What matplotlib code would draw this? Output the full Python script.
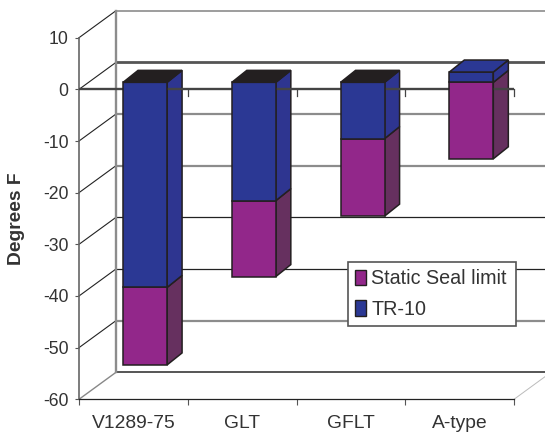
import matplotlib
matplotlib.use("Agg")
import matplotlib.pyplot as plt
from matplotlib.patches import Polygon, Patch

plt.rcParams['font.family'] = ['Liberation Sans', 'DejaVu Sans']

categories = ['V1289-75', 'GLT', 'GFLT', 'A-type']
tr10 = [-39.7, -22.9, -10.9, 2.0]
seal_limit = [-15.0, -14.7, -15.0, -14.8]
y_ticks = [10, 0, -10, -20, -30, -40, -50, -60]

W, H = 545, 432
L, R, T, B = 79, 514, 37.7, 399.3
fig = plt.figure(figsize=(W / 100, H / 100), dpi=100, facecolor='white')
ax = fig.add_axes([L / W, 1 - B / H, (R - L) / W, (B - T) / H], facecolor='none')
ax.set_xlim(0, len(categories))
ax.set_ylim(-60, 10)

PXX = (R - L) / len(categories)
PXY = (B - T) / 70
WALL_DX, WALL_DY = 37 / PXX, 27 / PXY
OFF_DX, OFF_DY = 11.7 / PXX, 7 / PXY
BAR_DX, BAR_DY = 15 / PXX, 12 / PXY
BAR_W = 44 / PXX

BLUE, BLUE_S = '#2B3894', '#2E3590'
PURPLE, PURPLE_S = '#92278A', '#66305F'
DARK = '#231F20'
TXT = '#333333'

# back wall and left wall
grid_style = {10: ('#8c8c8c', 1.2), 0: ('#555555', 2.0), -10: ('#8c8c8c', 1.6), -20: ('#8c8c8c', 1.6),
              -30: ('#222222', 0.9), -40: ('#222222', 0.9), -50: ('#8c8c8c', 1.6), -60: ('#555555', 1.4)}
for v in y_ticks:
    c, lw = grid_style[v]
    ax.plot([WALL_DX, 4 + WALL_DX], [v + WALL_DY] * 2, color=c, lw=lw, clip_on=False, zorder=1,
            solid_capstyle='butt')
    dc, dlw = ('#888888', 1.0) if v == -60 else ('#222222', 0.8)
    ax.plot([0, WALL_DX], [v, v + WALL_DY], color=dc, lw=dlw, clip_on=False, zorder=1)
ax.plot([WALL_DX, WALL_DX], [-60 + WALL_DY, 10 + WALL_DY], color='#8c8c8c', lw=1.7, clip_on=False, zorder=1)
ax.plot([4, 4 + WALL_DX], [-60, -60 + WALL_DY], color='#bbbbbb', lw=0.7, clip_on=False, zorder=1)

# zero line on the front plane with its ticks
ax.plot([0, 4], [0, 0], color='#444444', lw=1.7, clip_on=False, zorder=3, solid_capstyle='butt')
for i in range(1, len(categories) + 1):
    ax.plot([i, i], [0, -1.3], color='#444444', lw=0.9, clip_on=False, zorder=3)


def box(i, y0, y1, front, side, top=None):
    x0 = i + 0.5 - BAR_W / 2 + OFF_DX
    x1 = x0 + BAR_W
    y0 += OFF_DY
    y1 += OFF_DY
    kw = dict(edgecolor=DARK, lw=1.1, joinstyle='miter', clip_on=False)
    ax.add_patch(Polygon([(x1, y0), (x1 + BAR_DX, y0 + BAR_DY), (x1 + BAR_DX, y1 + BAR_DY), (x1, y1)],
                         facecolor=side, zorder=2, **kw))
    ax.add_patch(Polygon([(x0, y0), (x1, y0), (x1, y1), (x0, y1)], facecolor=front, zorder=4, **kw))
    if top is not None:
        yt = max(y0, y1)
        ax.add_patch(Polygon([(x0, yt), (x1, yt), (x1 + BAR_DX, yt + BAR_DY), (x0 + BAR_DX, yt + BAR_DY)],
                             facecolor=top, zorder=4, **kw))


for i, (t, s) in enumerate(zip(tr10, seal_limit)):
    start = min(t, 0)
    box(i, start, start + s, PURPLE, PURPLE_S)
    box(i, 0, t, BLUE, BLUE_S, top=DARK if t < 0 else BLUE)

# axes
for k in ('top', 'right'):
    ax.spines[k].set_visible(False)
ax.spines['left'].set_color('#666666')
ax.spines['left'].set_linewidth(1.2)
ax.spines['bottom'].set_color('#222222')
ax.spines['bottom'].set_linewidth(0.9)
ax.set_yticks(y_ticks)
ax.set_yticklabels([str(v) for v in y_ticks])
ax.tick_params(axis='y', labelsize=12.7, labelcolor=TXT, color='#555555', length=3, width=0.8, pad=4.5)
ax.set_xticks(range(len(categories) + 1))
ax.set_xticklabels([])
ax.tick_params(axis='x', which='major', color='#555555', length=4.5, width=0.8)
ax.set_xticks([i + 0.5 for i in range(len(categories))], minor=True)
ax.set_xticklabels(categories, minor=True)
ax.tick_params(axis='x', which='minor', length=0, labelsize=13.9, labelcolor=TXT, pad=11)

fig.text(17 / W, 1 - 218.5 / H, 'Degrees F', rotation=90, fontsize=13.9, fontweight='bold',
         color=TXT, ha='center', va='center')

leg = ax.legend(handles=[Patch(facecolor=PURPLE, edgecolor=DARK, label='Static Seal limit'),
                         Patch(facecolor=BLUE, edgecolor=DARK, label='TR-10')],
                loc='lower left', bbox_to_anchor=(347.7 / W, 1 - 326 / H, 168 / W, 65 / H),
                bbox_transform=fig.transFigure, mode='expand', borderaxespad=0,
                fontsize=14.2, labelcolor=TXT, fancybox=False, framealpha=1, edgecolor='#555555',
                handlelength=0.6, handleheight=0.85, handletextpad=0.25, labelspacing=0.6,
                borderpad=0.35)
leg.get_frame().set_linewidth(1.2)
leg.set_zorder(10)

fig.savefig('out.png', dpi=100)
